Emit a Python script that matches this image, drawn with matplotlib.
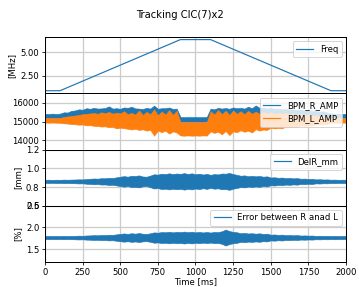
import matplotlib
matplotlib.use("Agg")
import matplotlib.pyplot as plt
from matplotlib.lines import Line2D
from matplotlib.ticker import FormatStrFormatter
import numpy as np

# ---------------- data ----------------
time_ms = list(range(0, 2001, 25))

freq_t = [0, 100, 900, 1100, 1900, 2000]
freq_mhz = [0.9, 0.9, 6.38, 6.38, 0.9, 0.9]

bpm_r_hi = [15420, 15410, 15430, 15415,
            15430, 15500, 15490, 15580,
            15600, 15660, 15640, 15720,
            15690, 15740, 15700, 15710,
            15730, 15820, 15700, 15720,
            15690, 15760, 15740, 15800,
            15710, 15700, 15680, 15740,
            15700, 15860, 15690, 15720,
            15720, 15760, 15680, 15700,
            15250, 15240, 15250, 15245,
            15250, 15240, 15245, 15250,
            15700, 15660, 15740, 15700,
            15730, 15690, 15760, 15720,
            15740, 15700, 15800, 15720,
            15870, 15740, 15750, 15700,
            15730, 15690, 15700, 15660,
            15680, 15650, 15660, 15620,
            15640, 15600, 15610, 15580,
            15570, 15540, 15550, 15490,
            15440, 15420, 15430, 15410,
            15420]
bpm_r_lo = [15200, 15200, 15200, 15200,
            15200, 15210, 15220, 15230,
            15150, 15150, 15150, 15150,
            15150, 15150, 15150, 15150,
            15150, 15150, 15150, 15150,
            15150, 15150, 15150, 15150,
            15150, 15150, 15150, 15150,
            15150, 15150, 15150, 15150,
            15150, 15150, 15150, 15150,
            15000, 15000, 15000, 15000,
            15000, 15000, 15000, 15000,
            15150, 15150, 15150, 15150,
            15150, 15150, 15150, 15150,
            15150, 15150, 15150, 15150,
            15150, 15150, 15150, 15150,
            15150, 15150, 15150, 15150,
            15150, 15150, 15150, 15150,
            15150, 15150, 15150, 15150,
            15200, 15200, 15200, 15200,
            15200, 15200, 15200, 15200,
            15200]
bpm_l_hi = [15190, 15185, 15195, 15190,
            15200, 15250, 15280, 15300,
            15330, 15360, 15400, 15420,
            15440, 15460, 15420, 15500,
            15450, 15520, 15430, 15480,
            15440, 15560, 15400, 15470,
            15380, 15600, 15360, 15520,
            15400, 15660, 15340, 15540,
            15380, 15620, 15360, 15580,
            14965, 14975, 14965, 14975,
            14965, 14975, 14965, 14975,
            15560, 15380, 15620, 15400,
            15580, 15360, 15600, 15420,
            15560, 15400, 15580, 15420,
            15540, 15420, 15520, 15440,
            15500, 15420, 15480, 15410,
            15460, 15380, 15440, 15370,
            15400, 15340, 15380, 15320,
            15340, 15280, 15300, 15250,
            15200, 15185, 15195, 15185,
            15190]
bpm_l_lo = [14950, 14945, 14955, 14945,
            14940, 14910, 14900, 14870,
            14860, 14840, 14850, 14800,
            14810, 14780, 14760, 14740,
            14750, 14700, 14720, 14640,
            14680, 14650, 14620, 14580,
            14620, 14560, 14590, 14520,
            14560, 14250, 14520, 14440,
            14520, 14360, 14480, 14420,
            14260, 14250, 14265, 14250,
            14260, 14250, 14265, 14255,
            14480, 14400, 14460, 14320,
            14500, 14280, 14480, 14440,
            14540, 14460, 14520, 14420,
            14600, 14520, 14580, 14560,
            14680, 14640, 14660, 14650,
            14740, 14710, 14730, 14720,
            14800, 14780, 14790, 14800,
            14860, 14850, 14860, 14880,
            14940, 14950, 14935, 14950,
            14950]

delr_center = 0.860
delr_amp = [.017, .018, .016, .018,
            .017, .019, .018, .019,
            .020, .022, .021, .025,
            .028, .031, .029, .034,
            .033, .038, .036, .043,
            .050, .056, .050, .060,
            .058, .064, .052, .050,
            .062, .076, .072, .082,
            .078, .086, .078, .084,
            .080, .088, .079, .086,
            .076, .082, .073, .080,
            .070, .078, .074, .084,
            .082, .090, .078, .070,
            .060, .064, .055, .059,
            .054, .058, .050, .054,
            .041, .044, .038, .041,
            .034, .037, .032, .035,
            .028, .030, .026, .028,
            .021, .023, .020, .021,
            .018, .019, .017, .018,
            .018]

err_center = 1.765
err_amp = [.036, .038, .035, .037,
           .036, .039, .036, .038,
           .040, .044, .041, .048,
           .050, .056, .052, .060,
           .058, .066, .062, .074,
           .085, .095, .085, .100,
           .090, .104, .088, .084,
           .098, .120, .112, .128,
           .122, .134, .120, .132,
           .126, .138, .124, .136,
           .120, .130, .118, .128,
           .116, .130, .126, .145,
           .185, .150, .132, .122,
           .100, .108, .094, .100,
           .090, .098, .084, .090,
           .066, .072, .062, .068,
           .056, .060, .052, .057,
           .046, .050, .044, .047,
           .039, .042, .038, .040,
           .036, .039, .035, .037,
           .036]

x_ticks = [0, 250, 500, 750, 1000, 1250, 1500, 1750, 2000]

# ---------------- drawing ----------------
BLUE = "#1f77b4"
ORANGE = "#ff7f0e"
plt.rcParams.update({
    "font.family": "DejaVu Sans",
    "font.size": 8.5,
    "axes.linewidth": 1.0,
    "xtick.labelsize": 8.5,
    "ytick.labelsize": 8.5,
    "legend.fontsize": 8.5,
    "xtick.major.pad": 2.5,
    "ytick.major.pad": 2.5,
    "xtick.major.size": 3,
    "ytick.major.size": 3,
})

fig, axes = plt.subplots(4, 1, sharex=True, figsize=(359 / 72, 287 / 72), dpi=72)
fig.subplots_adjust(left=0.1253, right=0.9638, top=0.871, bottom=0.0871, hspace=0)

t = np.array(time_ms, dtype=float)

ax = axes[0]
ax.plot(freq_t, freq_mhz, color=BLUE, lw=1.2, label="Freq")
ax.set_yticks([2.5, 5.0])
ax.yaxis.set_major_formatter(FormatStrFormatter("%.2f"))
ax.set_ylabel("[MHz]")
ax.legend(loc="upper right")

ax = axes[1]
ax.fill_between(t, bpm_r_lo, bpm_r_hi, color=BLUE, lw=0.6)
ax.fill_between(t, bpm_l_lo, bpm_l_hi, color=ORANGE, lw=0.6)
ax.set_ylim(13510, 16520)
ax.set_yticks([14000, 15000, 16000])
ax.legend(handles=[Line2D([], [], color=BLUE, lw=1.2, label="BPM_R_AMP"),
                   Line2D([], [], color=ORANGE, lw=1.2, label="BPM_L_AMP")],
          loc="upper right")

ax = axes[2]
dc = np.full_like(t, delr_center)
da = np.array(delr_amp)
ax.fill_between(t, dc - da, dc + da, color=BLUE, lw=0.6)
ax.set_ylim(0.6, 1.2)
ax.set_yticks([0.6, 0.8, 1.0, 1.2])
ax.set_ylabel("[mm]")
ax.legend(handles=[Line2D([], [], color=BLUE, lw=1.2, label="DelR_mm")],
          loc="upper right")

ax = axes[3]
ec = np.full_like(t, err_center)
ea = np.array(err_amp)
ax.fill_between(t, ec - ea, ec + ea, color=BLUE, lw=0.6)
ax.set_ylim(1.2, 2.5)
ax.set_yticks([1.5, 2.0, 2.5])
ax.set_ylabel("[%]")
ax.legend(handles=[Line2D([], [], color=BLUE, lw=1.2, label="Error between R anad L")],
          loc="upper right")
ax.set_xlabel("Time [ms]", labelpad=1)

for ax in axes:
    ax.grid(True, color="#cccccc", lw=1.3)
    ax.set_axisbelow(True)
    ax.set_xlim(0, 2000)
    ax.set_xticks(x_ticks)

fig.suptitle("Tracking CIC(7)x2", fontsize=10, y=0.965)
fig.savefig("out.png", dpi=72)
